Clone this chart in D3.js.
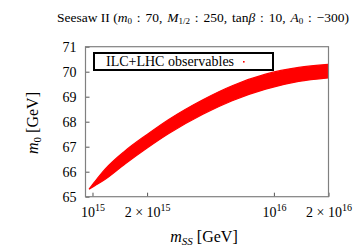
<!DOCTYPE html>
<html>
<head>
<meta charset="UTF-8">
<script src="https://cdn.jsdelivr.net/npm/d3@7/dist/d3.min.js"></script>
<style>
  body { margin: 0; background: #fff; }
  svg text { font-family: "Liberation Serif", "DejaVu Serif", serif; fill: #000; }
</style>
</head>
<body>
<svg id="chart"></svg>
<script>
// values
var xTicks = [1e15, 2e15, 1e16, 2e16];
var yTicks = [65, 66, 67, 68, 69, 70, 71];

// band of allowed points: m_SS and upper / lower edge of m0
var mss     = [0.957e15, 1.03e15, 1.17e15, 1.51e15, 2.0e15, 2.62e15, 4.06e15, 5.89e15, 9.0e15, 1.37e16, 1.99e16];
var m0Upper = [65.30,    65.60,   66.09,   66.83,   67.49,  68.08,   68.88,   69.44,   69.90,  70.17,   70.29];
var m0Lower = [65.30,    65.44,   65.69,   66.31,   66.95,  67.52,   68.30,   68.84,   69.30,  69.61,   69.75];

var width = 359, height = 247;
var plotL = 85.5, plotR = 328.5, plotT = 46.7, plotB = 196.7;

var svg = d3.select("#chart")
    .attr("width", width)
    .attr("height", height);

var x = d3.scaleLog().domain([9.15e14, 2e16]).range([plotL, plotR]);
var y = d3.scaleLinear().domain([65, 71]).range([plotB, plotT]);

// band
var band = mss.map(function(d, i) { return {mss: d, hi: m0Upper[i], lo: m0Lower[i]}; });
var area = d3.area()
    .x(function(d) { return x(d.mss); })
    .y0(function(d) { return y(d.lo); })
    .y1(function(d) { return y(d.hi); })
    .curve(d3.curveMonotoneX);

svg.append("path")
    .datum(band)
    .attr("d", area)
    .attr("fill", "#ff0000")
    .attr("stroke", "#ff0000")
    .attr("stroke-width", 1.2);

// axes (ticks inside)
var gx = svg.append("g")
    .attr("transform", "translate(0," + plotB + ")")
    .call(d3.axisBottom(x).tickValues(xTicks).tickSize(-4).tickFormat(""));
var gy = svg.append("g")
    .attr("transform", "translate(" + plotL + ",0)")
    .call(d3.axisLeft(y).tickValues(yTicks).tickSize(-4).tickFormat(""));
gx.select(".domain").remove();
gy.select(".domain").remove();
svg.selectAll(".tick line").attr("stroke", "#555").attr("stroke-width", 1);

gy.selectAll(".tick").append("text")
    .attr("x", -9)
    .attr("dy", "0.35em")
    .attr("text-anchor", "end")
    .style("font-size", "14px")
    .text(function(d) { return d; });

gx.selectAll(".tick").each(function(d) {
    var e = Math.floor(Math.log10(d) + 1e-9);
    var m = Math.round(d / Math.pow(10, e));
    var t = d3.select(this).append("text")
        .attr("y", 20)
        .attr("text-anchor", "middle")
        .style("font-size", "14px");
    t.append("tspan").text(m === 1 ? "10" : m + " \u00d7 10");
    t.append("tspan").attr("dy", -6).style("font-size", "10px").text(e);
});

// frame
svg.append("rect")
    .attr("x", plotL).attr("y", plotT)
    .attr("width", plotR - plotL).attr("height", plotB - plotT)
    .attr("fill", "none")
    .attr("stroke", "#808080")
    .attr("stroke-width", 1.2);

// legend
svg.append("rect")
    .attr("x", 94).attr("y", 53)
    .attr("width", 179).attr("height", 17)
    .attr("fill", "#fff")
    .attr("stroke", "#000")
    .attr("stroke-width", 2);
svg.append("text")
    .attr("x", 106).attr("y", 66)
    .style("font-size", "14px")
    .text("ILC+LHC observables");
svg.append("rect")
    .attr("x", 243).attr("y", 61)
    .attr("width", 1.6).attr("height", 1.6)
    .attr("fill", "#ff0000");

// title (math part gets a little wider spacing)
var title = svg.append("text")
    .attr("x", 203).attr("y", 22)
    .attr("text-anchor", "middle")
    .style("font-size", "13.5px");
title.append("tspan").text("Seesaw II (");
var mathParts = [
    ["m", "0", " : 70, "],
    ["M", "1/2", " : 250, tan"],
    ["\u03b2", null, " : 10, "],
    ["A", "0", " : \u2212300)"]
];
mathParts.forEach(function(p) {
    title.append("tspan").style("font-style", "italic").text(p[0]);
    if (p[1]) {
        title.append("tspan").attr("dy", 2).style("font-size", "9px").text(p[1]);
        title.append("tspan").attr("dy", -2).style("word-spacing", "1.5px").text(p[2]);
    } else {
        title.append("tspan").style("word-spacing", "1.5px").text(p[2]);
    }
});

// axis labels
var xl = svg.append("text")
    .attr("x", 204).attr("y", 242)
    .attr("text-anchor", "middle")
    .style("font-size", "16px");
xl.append("tspan").style("font-style", "italic").text("m");
xl.append("tspan").attr("dy", 3).style("font-size", "11px").style("font-style", "italic").text("SS");
xl.append("tspan").attr("dy", -3).text(" [GeV]");

var yl = svg.append("text")
    .attr("transform", "translate(38,123) rotate(-90)")
    .attr("text-anchor", "middle")
    .style("font-size", "16px");
yl.append("tspan").style("font-style", "italic").text("m");
yl.append("tspan").attr("dy", 3).style("font-size", "11px").text("0");
yl.append("tspan").attr("dy", -3).text(" [GeV]");
</script>
</body>
</html>
